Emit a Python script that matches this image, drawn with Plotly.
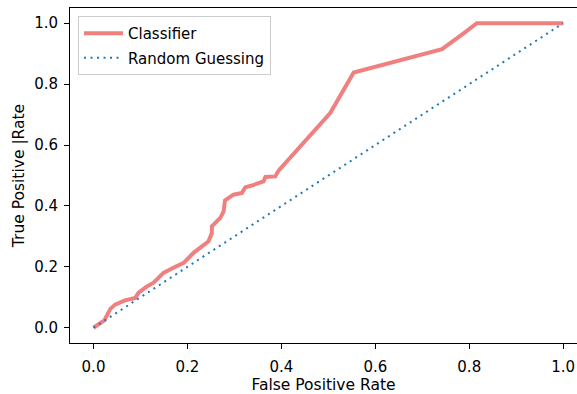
import plotly.graph_objects as go

# Classifier ROC curve
fpr = [0.0, 0.023, 0.036, 0.046, 0.067, 0.089, 0.096, 0.114, 0.128, 0.149, 0.17, 0.192,
       0.213, 0.245, 0.252, 0.252, 0.27, 0.277, 0.28, 0.298, 0.316, 0.323, 0.337, 0.362,
       0.366, 0.387, 0.394, 0.504, 0.554, 0.742, 0.788, 0.816, 1.0]
tpr = [0.0, 0.024, 0.062, 0.076, 0.09, 0.098, 0.115, 0.136, 0.148, 0.18, 0.197, 0.213,
       0.246, 0.284, 0.311, 0.333, 0.361, 0.382, 0.418, 0.437, 0.443, 0.461, 0.467, 0.481,
       0.495, 0.497, 0.516, 0.705, 0.838, 0.915, 0.967, 1.0, 1.0]

# Random guessing diagonal
rand_x = [0.0, 1.0]
rand_y = [0.0, 1.0]

tick_vals = [0.0, 0.2, 0.4, 0.6, 0.8, 1.0]
tick_text = ["0.0", "0.2", "0.4", "0.6", "0.8", "1.0"]

font = "DejaVu Sans"
fs = 15
title_fs = 15.5

fig = go.Figure()
fig.add_trace(go.Scatter(x=fpr, y=tpr, mode="lines", name="Classifier",
                         line=dict(color="#F08080", width=4), legendgroup="a"))
fig.add_trace(go.Scatter(x=rand_x, y=rand_y, mode="lines", name="Random Guessing",
                         line=dict(color="#1f77b4", width=2, dash="2px,4.5px"), legendgroup="b"))

fig.update_layout(
    width=577, height=394,
    margin=dict(l=70, r=0, t=8, b=50.5),
    paper_bgcolor="white", plot_bgcolor="white",
    font=dict(family=font, size=fs, color="black"),
    showlegend=True,
    legend=dict(x=0.0158, y=0.976, xanchor="left", yanchor="top",
                bgcolor="rgba(255,255,255,0.8)", bordercolor="#cccccc", borderwidth=1,
                font=dict(family=font, size=fs, color="black"),
                itemwidth=39, tracegroupgap=2),
    xaxis=dict(range=[-0.05, 1.0294], tickvals=tick_vals, ticktext=tick_text,
               showgrid=False, zeroline=False, showline=True, mirror=True,
               linecolor="black", linewidth=1, ticks="outside", ticklen=5,
               tickcolor="black", tickwidth=1, ticklabelstandoff=5,
               tickfont=dict(family=font, size=fs, color="black"),
               title=dict(text="False Positive Rate", standoff=1,
                          font=dict(family=font, size=title_fs, color="black"))),
    yaxis=dict(range=[-0.05, 1.05], tickvals=tick_vals, ticktext=tick_text,
               showgrid=False, zeroline=False, showline=True, mirror=False,
               linecolor="black", linewidth=1, ticks="outside", ticklen=5,
               tickcolor="black", tickwidth=1, ticklabelstandoff=3,
               tickfont=dict(family=font, size=fs, color="black"),
               title=dict(text="True Positive |Rate", standoff=5,
                          font=dict(family=font, size=title_fs, color="black"))),
)

fig.write_html("out.html")
